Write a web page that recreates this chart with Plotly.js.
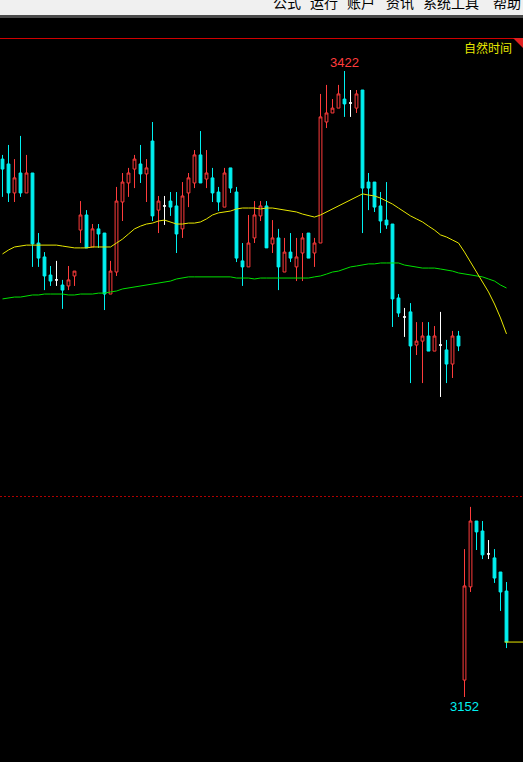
<!DOCTYPE html>
<html><head><meta charset="utf-8">
<script src="https://cdn.plot.ly/plotly-3.0.1.min.js"></script>
<style>html,body{margin:0;padding:0;background:#000;overflow:hidden}#chart{width:523px;height:762px}</style>
</head><body><div id="chart"></div>
<script>
// ---- data (daily K-line) ----
const openP = [
3384.0,3381.9,3369.4,3378.0,3369.4,3378.0,3347.8,3341.8,3334.0,3331.9,
3329.7,3329.3,3333.6,3353.4,3359.9,3346.1,3353.9,3352.1,3325.8,3335.3,
3365.5,3373.7,3379.7,3381.9,3377.6,3391.8,3362.0,3363.8,3365.9,3363.8,
3353.9,3369.4,3373.7,3385.8,3375.4,3375.9,3369.8,3363.3,3380.2,3369.8,
3340.1,3337.5,3350.0,3359.5,3363.8,3347.4,3350.0,3335.3,3343.9,3337.5,
3343.5,3352.1,3343.5,3347.8,3400.0,3403.9,3406.0,3409.9,3408.2,3406.0,
3413.8,3374.1,3374.1,3363.8,3357.7,3356.0,3324.1,3315.9,3318.1,3303.8,
3305.5,3307.7,3301.2,3303.8,3301.7,3295.6,3307.7,3159.3,3199.5,3227.9,
3223.6,3213.7,3212.0,3205.9,3197.7];
const highP = [
3385.8,3390.1,3384.0,3394.0,3385.8,3378.0,3352.1,3343.9,3337.9,3340.1,
3331.9,3337.9,3335.7,3365.9,3362.0,3356.0,3356.0,3352.1,3340.1,3372.0,
3378.0,3380.2,3385.8,3390.1,3384.0,3400.0,3368.1,3368.1,3369.8,3369.8,
3374.1,3378.0,3387.9,3396.1,3387.9,3380.2,3372.0,3380.2,3380.2,3372.0,
3347.8,3359.9,3365.9,3365.9,3365.9,3357.7,3353.9,3350.0,3352.1,3350.0,
3352.1,3352.1,3350.0,3412.1,3416.0,3409.9,3416.0,3422.0,3413.8,3413.8,
3413.8,3378.0,3374.1,3369.8,3374.1,3356.0,3325.8,3319.8,3321.9,3313.7,
3313.7,3313.7,3312.0,3318.1,3306.0,3309.9,3309.9,3215.8,3234.0,3227.9,
3227.9,3219.7,3215.8,3205.9,3201.6];
const lowP = [
3367.7,3365.5,3365.5,3367.7,3369.4,3337.5,3337.5,3327.5,3329.3,3329.3,
3319.4,3327.5,3329.3,3347.8,3345.7,3346.1,3345.7,3318.9,3325.8,3333.6,
3357.3,3367.7,3371.5,3373.7,3365.5,3357.3,3352.1,3355.6,3359.5,3343.5,
3350.0,3363.3,3371.5,3373.7,3371.5,3365.5,3361.6,3363.3,3369.4,3339.6,
3329.3,3337.5,3347.8,3357.3,3345.7,3343.5,3327.5,3335.3,3339.6,3331.4,
3331.4,3341.3,3337.5,3347.8,3397.4,3403.9,3406.0,3402.2,3402.2,3403.9,
3352.1,3362.0,3361.2,3352.1,3353.9,3311.6,3315.9,3307.3,3287.4,3299.5,
3287.4,3301.2,3301.2,3281.4,3287.4,3289.6,3301.2,3152.0,3197.3,3215.4,
3211.5,3211.5,3201.2,3189.1,3173.1];
const closeP = [
3379.7,3369.4,3375.9,3369.4,3378.0,3347.4,3341.3,3333.6,3331.4,3331.9,
3327.5,3331.9,3335.7,3359.9,3345.7,3353.9,3351.7,3325.8,3335.7,3365.9,
3374.1,3378.0,3384.0,3377.6,3380.2,3359.5,3365.9,3363.8,3363.3,3351.7,
3368.1,3375.9,3385.8,3373.7,3378.0,3369.4,3365.5,3378.0,3371.5,3341.3,
3337.5,3347.8,3359.9,3363.8,3345.7,3350.0,3337.5,3343.9,3341.3,3341.8,
3350.0,3341.3,3347.8,3402.2,3403.9,3406.0,3412.1,3407.8,3408.2,3412.1,
3371.5,3371.5,3363.3,3357.3,3355.6,3323.7,3317.6,3315.9,3303.4,3305.5,
3307.7,3301.2,3307.7,3303.8,3295.6,3307.7,3303.4,3199.9,3227.9,3223.2,
3213.3,3213.7,3203.3,3197.3,3175.7];
const maYellow = [
3343.1,3344.8,3346.1,3346.5,3346.9,3346.9,3346.9,3346.9,3346.9,3346.9,
3346.5,3346.1,3345.7,3345.7,3345.7,3346.1,3346.1,3346.1,3346.1,3347.8,
3349.5,3351.7,3353.9,3355.1,3356.0,3356.4,3357.3,3357.7,3356.9,3356.0,
3356.0,3356.4,3356.4,3356.9,3358.2,3359.9,3360.8,3361.2,3361.6,3362.5,
3362.9,3362.9,3362.9,3362.5,3362.9,3362.9,3362.5,3362.0,3361.6,3361.2,
3360.3,3359.5,3359.0,3359.9,3361.2,3362.5,3363.8,3365.1,3366.4,3367.7,
3369.0,3368.5,3368.1,3367.2,3365.9,3364.6,3362.9,3361.2,3359.5,3358.2,
3356.9,3355.1,3353.4,3351.3,3350.4,3349.1,3347.8,3343.9,3339.6,3335.7,
3331.0,3326.7,3321.5,3315.5,3308.6];
const maGreen = [
3323.7,3324.1,3324.5,3324.5,3325.0,3325.4,3325.4,3325.8,3325.8,3325.8,
3325.8,3325.4,3325.4,3325.8,3325.8,3325.8,3326.2,3326.2,3326.7,3327.1,
3328.0,3328.4,3328.8,3329.3,3329.7,3330.1,3330.6,3331.0,3331.4,3332.3,
3332.7,3333.2,3333.2,3333.2,3333.2,3333.2,3333.2,3333.2,3333.2,3332.7,
3332.7,3332.7,3332.3,3332.7,3332.7,3332.7,3332.7,3332.7,3332.7,3332.7,
3332.7,3332.7,3333.2,3333.6,3334.4,3335.3,3335.7,3336.6,3337.5,3337.9,
3338.3,3338.8,3338.8,3339.2,3339.2,3339.2,3339.2,3338.3,3337.9,3337.5,
3337.0,3337.0,3337.0,3336.6,3336.2,3335.7,3334.9,3334.4,3334.0,3333.6,
3333.2,3332.3,3331.4,3329.7,3328.4];
const menuItems = ['公式','运行','账户','资讯','系统工具','帮助'];
const timeModeLabel = '自然时间';

// ---- build ----
const W = 523, H = 762;
const UP = '#ff3c3c', DOWN = '#00f0f0', DOJI = '#ffffff';
const idx = openP.map((_, i) => i);
function pick(arr, sel){ return sel.map(i => arr[i]); }
const upI = idx.filter(i => closeP[i] > openP[i]);
const dnI = idx.filter(i => closeP[i] < openP[i]);
const djI = idx.filter(i => closeP[i] === openP[i]);
function candle(sel, incCol, incFill, decCol, decFill){
  return {type:'candlestick', x: sel, open: pick(openP, sel), high: pick(highP, sel),
    low: pick(lowP, sel), close: pick(closeP, sel), hoverinfo:'skip', showlegend:false,
    whiskerwidth: 0,
    increasing:{line:{color:incCol, width:1}, fillcolor: incFill},
    decreasing:{line:{color:decCol, width:1}, fillcolor: decFill}};
}
const traces = [
  {type:'scatter', mode:'lines', x: idx, y: maGreen, line:{color:'#00e000', width:1}, hoverinfo:'skip', showlegend:false},
  {type:'scatter', mode:'lines', x: idx, y: maYellow, line:{color:'#e8e800', width:1}, hoverinfo:'skip', showlegend:false},
  candle(upI, UP, '#000000', UP, '#000000'),
  candle(dnI, DOWN, DOWN, DOWN, DOWN),
  candle(djI, DOJI, DOJI, DOJI, DOJI)
];

// pixel anchors: 3422 high sits at y=71, 3152 low at y=697
const hiVal = Math.max(...highP), loVal = Math.min(...lowP);
const hiI = highP.indexOf(hiVal), loI = lowP.indexOf(loVal);
const k = (hiVal - loVal) / (697 - 71);
const yTop = hiVal + k * 71, yBot = hiVal - k * (H - 71);
const xr0 = -2.5/6, xr1 = xr0 + W / 6;
const py = p => 1 - p / H, pxp = p => p / W;

const shapes = [
  {type:'rect', xref:'paper', yref:'paper', x0:0, x1:1, y0:py(15), y1:1, fillcolor:'#f0f0f0', line:{width:0}},
  {type:'rect', xref:'paper', yref:'paper', x0:0, x1:1, y0:py(18), y1:py(15), fillcolor:'#4a4a4a', line:{width:0}},
  {type:'line', xref:'paper', yref:'paper', x0:0, x1:1, y0:py(38.5), y1:py(38.5), line:{color:'#d00000', width:1}},
  {type:'path', xref:'paper', yref:'paper', path:`M ${pxp(513)} ${py(38)} L ${pxp(523)} ${py(38)} L ${pxp(523)} ${py(48)} Z`, fillcolor:'#e02020', line:{width:0}},
  {type:'line', xref:'paper', yref:'paper', x0:0, x1:1, y0:py(496.5), y1:py(496.5), line:{color:'#b00000', width:1, dash:'2px,2px'}},
  {type:'line', xref:'x', yref:'y', x0: closeP.length - 1.33, x1: xr1, y0: closeP[closeP.length-1], y1: closeP[closeP.length-1], line:{color:'#e8e800', width:1}}
];
const menuX = [287, 324, 361, 400, 451, 507];
const annotations = menuItems.map((t, i) => ({xref:'paper', yref:'paper', x:pxp(menuX[i]), y:py(14), xanchor:'center', yanchor:'bottom',
  text:t, showarrow:false, font:{family:'Noto Sans CJK SC', size:14, color:'#000'}}));
annotations.push(
  {xref:'paper', yref:'paper', x:pxp(514), y:py(47.5), xanchor:'right', yanchor:'middle', text:timeModeLabel, showarrow:false,
   font:{family:'Noto Sans CJK SC', size:12, color:'#e8e800'}},
  {xref:'x', yref:'y', x:hiI, y:hiVal, xanchor:'center', yanchor:'bottom', yshift:-1, text:String(Math.round(hiVal)), showarrow:false,
   font:{family:'Liberation Sans', size:13, color:UP}},
  {xref:'x', yref:'y', x:loI, y:loVal, xanchor:'center', yanchor:'top', yshift:0, text:String(Math.round(loVal)), showarrow:false,
   font:{family:'Liberation Sans', size:13, color:DOWN}}
);

const layout = {
  width: W, height: H, margin:{l:0, r:0, t:0, b:0, pad:0},
  paper_bgcolor:'#000', plot_bgcolor:'#000', showlegend:false, hovermode:false,
  boxgap: 1/3,
  xaxis:{range:[xr0, xr1], visible:false, showgrid:false, zeroline:false, rangeslider:{visible:false}, fixedrange:true},
  yaxis:{range:[yBot, yTop], visible:false, showgrid:false, zeroline:false, fixedrange:true},
  shapes, annotations
};
Plotly.newPlot('chart', traces, layout, {staticPlot:true, displayModeBar:false});
</script>
</body></html>
